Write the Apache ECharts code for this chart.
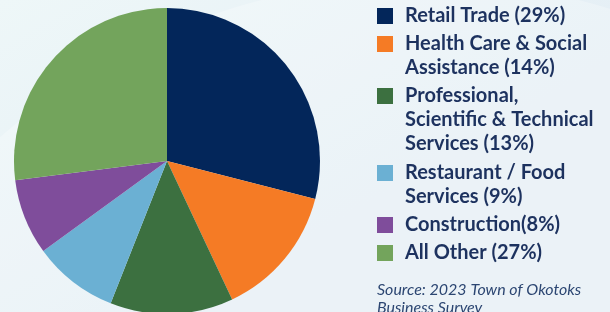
<!DOCTYPE html>
<html>
<head>
<meta charset="utf-8">
<script src="https://cdn.jsdelivr.net/npm/echarts@6/dist/echarts.min.js"></script>
<style>
  html, body { margin: 0; padding: 0; }
  #main { width: 610px; height: 312px; }
</style>
</head>
<body>
<div id="main"></div>
<script>
// sectors of the survey, in drawing order (clockwise from 12 o'clock)
const categories = [
  'Retail Trade (29%)',
  'Health Care & Social\nAssistance (14%)',
  'Professional,\nScientific & Technical\nServices (13%)',
  'Restaurant / Food\nServices (9%)',
  'Construction(8%)',
  'All Other (27%)'
];
const shares = [29, 14, 13, 9, 8, 27];
const colors = ['#03265A', '#F57B25', '#3C7040', '#6BB0D3', '#7F4D9B', '#73A45C'];
const sourceNote = 'Source: 2023 Town of Okotoks\nBusiness Survey';

// y of the square (= first text line) for each legend entry
const legendCenters = [16, 44, 96, 173, 225, 253];
const lineH = 24;

let myChart = echarts.init(document.getElementById('main'));

// one legend per entry so the square lines up with the first text line
let legends = categories.map(function(name, i) {
  let n = name.split('\n').length;
  return {
    data: [name],
    orient: 'vertical',
    left: 377,
    top: legendCenters[i] - (2 * n - 1) * lineH / 2,
    padding: 0,
    itemWidth: 16,
    itemHeight: 16,
    icon: 'rect',
    selectedMode: false,
    itemStyle: { borderWidth: 0 },
    formatter: function(label) {
      // blank lines on top push the block down so line 1 sits beside the square
      return '\n'.repeat(label.split('\n').length - 1) + label;
    },
    textStyle: {
      fontFamily: 'Lato',
      fontWeight: 'bold',
      fontSize: 20,
      lineHeight: lineH,
      color: '#1D325F',
      padding: [0, 0, 0, 7]
    }
  };
});

let option = {
  animation: false,
  backgroundColor: {
    type: 'linear', x: 0, y: 0, x2: 0.3, y2: 1,
    colorStops: [
      { offset: 0, color: '#EEF7F8' },
      { offset: 1, color: '#E4EEF5' }
    ]
  },
  graphic: [
    {
      type: 'circle',
      silent: true,
      z: -10,
      shape: { cx: 420, cy: 620, r: 640 },
      style: { fill: 'rgba(255,255,255,0.25)' }
    },
    {
      type: 'text',
      left: 377,
      top: 281,
      style: {
        text: sourceNote,
        fontFamily: 'Lato',
        fontStyle: 'italic',
        fontSize: 16,
        lineHeight: 18,
        fill: '#2C4672'
      }
    }
  ],
  legend: legends,
  series: [
    {
      type: 'pie',
      center: [167, 161],
      radius: 153,
      startAngle: 90,
      clockwise: true,
      label: { show: false },
      labelLine: { show: false },
      emphasis: { disabled: true },
      itemStyle: { borderWidth: 0 },
      data: categories.map(function(name, i) {
        return { name: name, value: shares[i], itemStyle: { color: colors[i] } };
      })
    }
  ]
};

myChart.setOption(option);
</script>
</body>
</html>
